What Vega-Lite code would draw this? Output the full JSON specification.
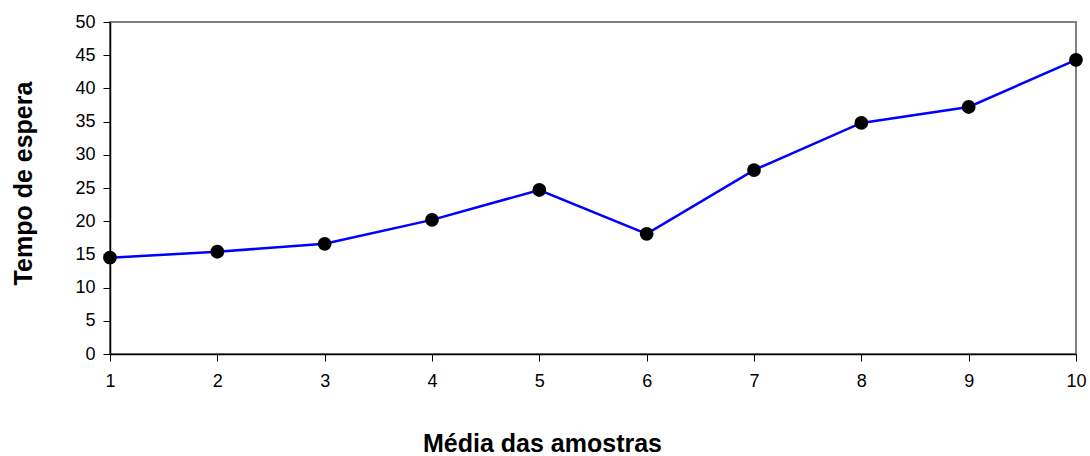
{
  "$schema": "https://vega.github.io/schema/vega-lite/v6.json",
  "autosize": {"type": "none"},
  "padding": {"left": 110, "top": 22, "right": 14, "bottom": 102},
  "width": 966,
  "height": 332,
  "background": "white",
  "config": {
    "view": {"stroke": "#808080", "strokeWidth": 2},
    "font": "Liberation Sans"
  },
  "data": {
    "values": [
      {"amostra": 1, "tempo": 14.5},
      {"amostra": 2, "tempo": 15.4},
      {"amostra": 3, "tempo": 16.6},
      {"amostra": 4, "tempo": 20.2},
      {"amostra": 5, "tempo": 24.7},
      {"amostra": 6, "tempo": 18.1},
      {"amostra": 7, "tempo": 27.7},
      {"amostra": 8, "tempo": 34.8},
      {"amostra": 9, "tempo": 37.2},
      {"amostra": 10, "tempo": 44.3}
    ]
  },
  "encoding": {
    "x": {
      "field": "amostra", "type": "quantitative",
      "scale": {"domain": [1, 10], "nice": false, "zero": false},
      "axis": {
        "title": "Média das amostras", "values": [1,2,3,4,5,6,7,8,9,10],
        "grid": false, "domainColor": "black", "domainWidth": 1.5,
        "tickColor": "black", "tickSize": 7, "labelFontSize": 18, "labelColor": "black",
        "labelPadding": 11, "labelFlush": false,
        "titleFontSize": 25, "titleFontWeight": "bold", "titleColor": "black", "titlePadding": 41,
        "titleX": 432
      }
    },
    "y": {
      "field": "tempo", "type": "quantitative",
      "scale": {"domain": [0, 50], "nice": false},
      "axis": {
        "title": "Tempo de espera", "values": [0,5,10,15,20,25,30,35,40,45,50],
        "grid": false, "domainColor": "black", "domainWidth": 1.5,
        "tickColor": "black", "tickSize": 7, "labelFontSize": 18, "labelColor": "black",
        "labelPadding": 8,
        "titleFontSize": 25, "titleFontWeight": "bold", "titleColor": "black", "titlePadding": 38,
        "titleY": 161
      }
    }
  },
  "layer": [
    {"mark": {"type": "line", "color": "#0000FF", "strokeWidth": 2.5}},
    {"mark": {"type": "point", "filled": true, "color": "black", "opacity": 1, "size": 190}}
  ]
}
